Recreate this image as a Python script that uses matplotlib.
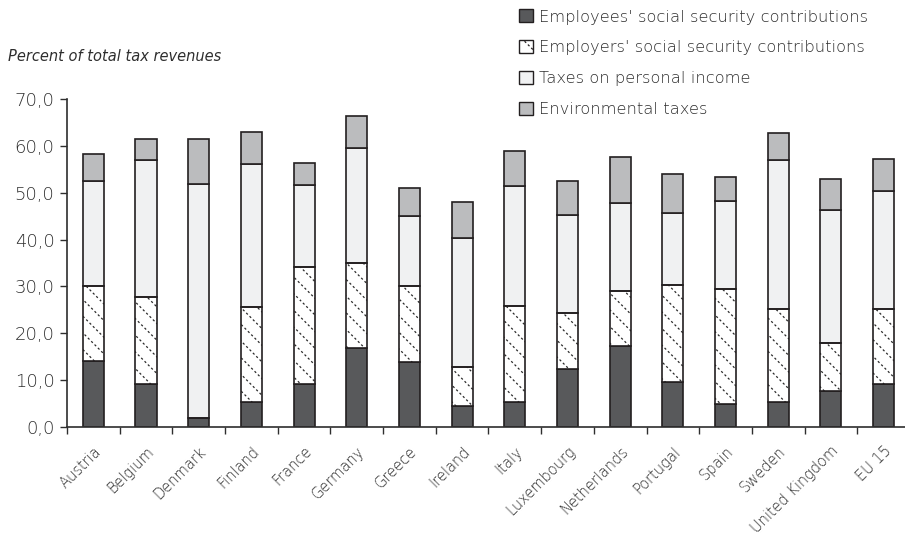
import numpy as np
import matplotlib.pyplot as plt
import matplotlib.hatch as mhatch
import matplotlib.transforms as mtrans
from matplotlib.path import Path
from matplotlib.patches import Patch

countries = ["Austria", "Belgium", "Denmark", "Finland", "France", "Germany",
             "Greece", "Ireland", "Italy", "Luxembourg", "Netherlands",
             "Portugal", "Spain", "Sweden", "United Kingdom", "EU 15"]

# shares of total tax revenues (%)
employees = [14.0, 9.2, 2.0, 5.4, 9.2, 16.8, 13.8, 4.4, 5.3, 12.4, 17.3, 9.5, 5.0, 5.3, 7.6, 9.2]
employers = [16.0, 18.5, 0.0, 20.3, 24.9, 18.3, 16.3, 8.3, 20.6, 11.9, 11.7, 20.8, 24.4, 19.9, 10.3, 16.0]
income = [22.4, 29.3, 49.8, 30.4, 17.6, 24.5, 14.9, 27.7, 25.5, 21.0, 18.8, 15.3, 18.9, 31.8, 28.4, 25.2]
environmental = [5.9, 4.5, 9.7, 6.9, 4.6, 6.8, 6.1, 7.7, 7.4, 7.3, 9.9, 8.3, 5.1, 5.7, 6.6, 6.8]

legend_labels = ["Employees' social security contributions",
                 "Employers' social security contributions",
                 "Taxes on personal income",
                 "Environmental taxes"]


# dotted version of the "\" hatch, to look like the original print
class DottedSouthEast(mhatch.HatchPatternBase):
    def __init__(self, hatch, density):
        self.num_lines = int(hatch.count("\\") * density)
        self.dots = 30
        self.num_vertices = (self.num_lines + 1) * self.dots * 2 if self.num_lines else 0

    def set_vertices_and_codes(self, vertices, codes):
        steps = np.linspace(-0.5, 0.5, self.num_lines + 1)
        t = np.linspace(0, 1, self.dots, endpoint=False)
        s, tt = np.meshgrid(steps, t, indexing="ij")
        x0 = (tt + s).ravel()
        y0 = (1 - tt + s).ravel()
        vertices[0::2, 0] = x0
        vertices[0::2, 1] = y0
        vertices[1::2, 0] = x0 + 0.007
        vertices[1::2, 1] = y0 - 0.007
        codes[0::2] = Path.MOVETO
        codes[1::2] = Path.LINETO


mhatch._hatch_types[mhatch._hatch_types.index(mhatch.SouthEastHatch)] = DottedSouthEast

plt.rcParams["font.family"] = ["DejaVu Sans"]
plt.rcParams["font.weight"] = "light"
plt.rcParams["hatch.linewidth"] = 0.9

dark = "#58595b"
light = "#f0f1f2"
mid = "#bbbcbe"
edge = "#231f20"
txt = "#2e2e2e"

fig = plt.figure(figsize=(9.05, 5.38), dpi=100)
ax = fig.add_axes([0.074, 0.2063, 0.9315, 0.6097])

x = np.arange(len(countries))
w = 0.4
emp = np.array(employees)
emr = np.array(employers)
inc = np.array(income)
env = np.array(environmental)

ax.bar(x, emp, w, color=dark, edgecolor=edge, linewidth=1.2, zorder=2)
ax.bar(x, emr, w, bottom=emp, color="white", edgecolor="#2a2a2a",
       linewidth=0, hatch="\\\\", zorder=2)
ax.bar(x, emr, w, bottom=emp, color="none", edgecolor=edge, linewidth=1.2, zorder=3)
ax.bar(x, inc, w, bottom=emp + emr, color=light, edgecolor=edge, linewidth=1.2, zorder=2)
ax.bar(x, env, w, bottom=emp + emr + inc, color=mid, edgecolor=edge, linewidth=1.2, zorder=2)

ax.set_xlim(-0.5, len(countries) - 0.5)
ax.set_ylim(0, 70)
ax.set_yticks(np.arange(0, 71, 10))
ax.set_yticklabels([f"{v:.1f}".replace(".", ",") for v in np.arange(0, 71, 10)],
                   fontsize=13, color=txt)
ax.set_xticks(x)
ax.set_xticklabels(countries, rotation=45, ha="right", va="top",
                   rotation_mode="anchor", fontsize=10.5, color=txt)
shift = mtrans.ScaledTranslation(0.05, 0, fig.dpi_scale_trans)
for lab in ax.get_xticklabels():
    lab.set_transform(lab.get_transform() + shift)
ax.set_xticks(np.arange(-0.5, len(countries), 1), minor=True)
ax.tick_params(axis="x", which="major", length=0, pad=12)
ax.tick_params(axis="x", which="minor", length=5, width=1, color=txt)
ax.tick_params(axis="y", length=5, width=1, color=txt, pad=4)

for s in ["top", "right"]:
    ax.spines[s].set_visible(False)
for s in ["left", "bottom"]:
    ax.spines[s].set_color(txt)
    ax.spines[s].set_linewidth(1.2)

fig.text(0.009, 0.887, "Percent of total tax revenues", style="italic",
         fontsize=10.5, color=txt)

handles = [
    Patch(facecolor=dark, edgecolor=edge),
    Patch(facecolor="white", edgecolor=edge, hatch="\\\\"),
    Patch(facecolor=light, edgecolor=edge),
    Patch(facecolor=mid, edgecolor=edge),
]
fig.legend(handles, legend_labels, loc="upper left", bbox_to_anchor=(0.557, 1.01),
           frameon=False, fontsize=11.8, handlelength=0.85, handleheight=0.85,
           handletextpad=0.35, labelspacing=0.95, labelcolor=txt)

fig.savefig("out.png", dpi=100)
